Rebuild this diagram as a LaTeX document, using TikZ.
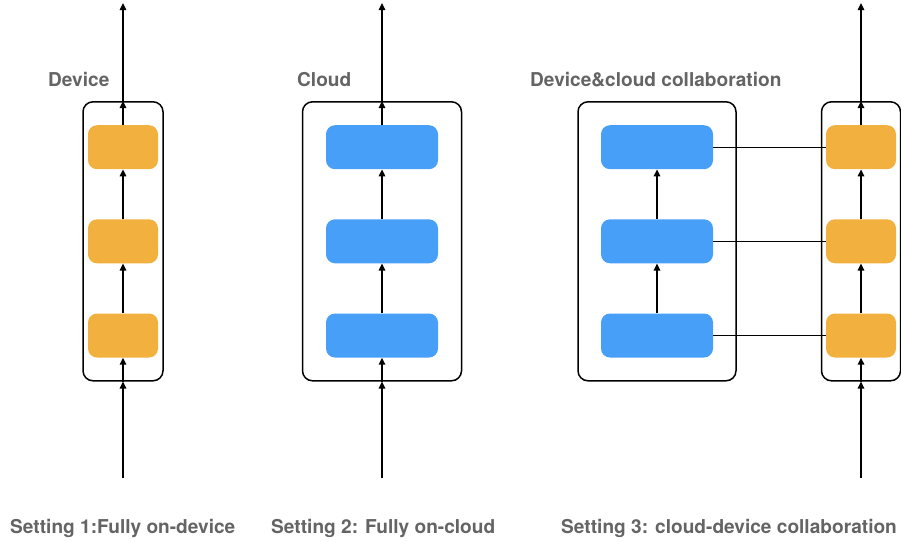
\documentclass[tikz,border=0pt]{standalone}
\usepackage{fontspec}
\setmainfont{TeX Gyre Heros}
\usetikzlibrary{arrows.meta}

\definecolor{devorange}{HTML}{F2B13E}
\definecolor{cloudblue}{HTML}{489FF8}
\definecolor{labelgray}{HTML}{646464}

\tikzset{
    frame/.style={draw, line width=1.5pt, rounded corners=10pt, inner sep=0pt},
    devblock/.style={fill=devorange, rounded corners=9pt, minimum width=70pt, minimum height=44pt, inner sep=0pt},
    cloudblock/.style={fill=cloudblue, rounded corners=9pt, minimum width=112pt, minimum height=44pt, inner sep=0pt},
    arr/.style={line width=1.5pt, -{Triangle[width=6.5pt,length=7pt]}},
    link/.style={line width=1.2pt},
    lbl/.style={text=labelgray, font=\fontsize{19.1}{23}\selectfont\bfseries, inner sep=0pt, anchor=base west}
}

\begin{document}
\begin{tikzpicture}[x=1pt, y=-1pt]
    \useasboundingbox (0,0) rectangle (901,541);

    % setting 1: fully on-device
    \node[frame, minimum width=80pt, minimum height=279pt] (box1) at (123,241.3) {};
    \node[devblock] (dev1a) at (123,335.5) {};
    \node[devblock] (dev1b) at (123,241.3) {};
    \node[devblock] (dev1c) at (123,147.2) {};
    \coordinate (in1) at (123,478);
    \coordinate (out1) at (123,3);
    \draw[arr] (in1) -- (box1.south);
    \draw[arr] (box1.south) -- (dev1a.south);
    \draw[arr] (dev1a.north) -- (dev1b.south);
    \draw[arr] (dev1b.north) -- (dev1c.south);
    \draw[arr] (dev1c.north) -- (box1.north);
    \draw[arr] (box1.north) -- (out1);

    % setting 2: fully on-cloud
    \node[frame, minimum width=159pt, minimum height=279pt] (box2) at (382,241.3) {};
    \node[cloudblock] (cld2a) at (382,335.5) {};
    \node[cloudblock] (cld2b) at (382,241.3) {};
    \node[cloudblock] (cld2c) at (382,147.2) {};
    \coordinate (in2) at (382,478);
    \coordinate (out2) at (382,3);
    \draw[arr] (in2) -- (box2.south);
    \draw[arr] (box2.south) -- (cld2a.south);
    \draw[arr] (cld2a.north) -- (cld2b.south);
    \draw[arr] (cld2b.north) -- (cld2c.south);
    \draw[arr] (cld2c.north) -- (box2.north);
    \draw[arr] (box2.north) -- (out2);

    % setting 3: cloud-device collaboration
    \node[frame, minimum width=158pt, minimum height=279pt] (box3c) at (657,241.3) {};
    \node[cloudblock] (cld3a) at (657,335.5) {};
    \node[cloudblock] (cld3b) at (657,241.3) {};
    \node[cloudblock] (cld3c) at (657,147.2) {};
    \draw[arr] (cld3a.north) -- (cld3b.south);
    \draw[arr] (cld3b.north) -- (cld3c.south);

    \node[frame, minimum width=79pt, minimum height=279pt] (box3d) at (861,241.3) {};
    \node[devblock] (dev3a) at (861,335.5) {};
    \node[devblock] (dev3b) at (861,241.3) {};
    \node[devblock] (dev3c) at (861,147.2) {};
    \coordinate (in3) at (861,478);
    \coordinate (out3) at (861,3);
    \draw[arr] (in3) -- (box3d.south);
    \draw[arr] (box3d.south) -- (dev3a.south);
    \draw[arr] (dev3a.north) -- (dev3b.south);
    \draw[arr] (dev3b.north) -- (dev3c.south);
    \draw[arr] (dev3c.north) -- (box3d.north);
    \draw[arr] (box3d.north) -- (out3);

    \draw[link] (cld3a.east) -- (dev3a.west);
    \draw[link] (cld3b.east) -- (dev3b.west);
    \draw[link] (cld3c.east) -- (dev3c.west);

    % titles
    \node[lbl] (ttl1) at (48,86.5) {Device};
    \node[lbl] (ttl2) at (297,86.5) {Cloud};
    \node[lbl] (ttl3) at (530,86.5) {Device\&cloud collaboration};

    \node[lbl] (set1) at (10,533.5) {Setting 1:Fully on-device};
    \node[lbl] (set2) at (271,533.5) {Setting 2: Fully on-cloud};
    \node[lbl] (set3) at (561,533.5) {Setting 3: cloud-device collaboration};
\end{tikzpicture}
\end{document}
